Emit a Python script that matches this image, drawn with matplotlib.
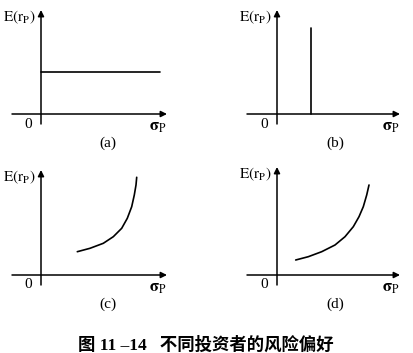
import matplotlib.pyplot as plt

plt.rcParams['mathtext.fontset'] = 'stix'
plt.rcParams['font.family'] = ['Liberation Serif', 'Noto Sans CJK SC']

# data (pixel-ish units measured from each panel's origin)
a_sigma = [0, 119]
a_er = [42, 42]
b_sigma = [34, 34]
b_er = [0, 86]
c_sigma = [36.3, 49, 62.3, 72.3, 80.7, 86.3, 90.7, 93.3, 95, 95.7]
c_er = [23.3, 26.7, 31.7, 38.3, 46.7, 56.7, 68.3, 80, 90, 97.7]
d_sigma = [18.7, 31.3, 44.7, 58, 68, 76.3, 82, 86.3, 89.7, 92]
d_er = [15, 18.3, 23.3, 30, 38.3, 48.3, 58.3, 68.3, 80, 90]
panel_labels = ['(a)', '(b)', '(c)', '(d)']
caption = '图 11 –14   不同投资者的风险偏好'

W, H = 414, 353
fig = plt.figure(figsize=(W / 100, H / 100), dpi=100)

# panel boxes: (left px, top px, width, height, origin x px, origin y px,
#               x-axis start, x-axis end, y-axis top, label x)
boxes = [
    (0, 0, 207, 160, 41, 114, -29, 126, 104, 67),
    (207, 0, 207, 160, 277, 114, -30, 123, 104, 58),
    (0, 160, 207, 160, 41, 275, -29, 126, 105, 67),
    (207, 160, 207, 160, 277, 275, -30, 123, 108, 58),
]
series = [(a_sigma, a_er), (b_sigma, b_er), (c_sigma, c_er), (d_sigma, d_er)]

arrow = dict(arrowstyle='-|>', lw=1.1, color='black', mutation_scale=9,
             shrinkA=0, shrinkB=0)

for i, (l, t, w, h, ox, oy, xs, xe, ytop, lx) in enumerate(boxes):
    ax = fig.add_axes([l / W, 1 - (t + h) / H, w / W, h / H])
    ax.set_xlim(l - ox, l + w - ox)
    ax.set_ylim(oy - (t + h), oy - t)
    ax.axis('off')
    ax.annotate('', xy=(xe, 0), xytext=(xs, 0), arrowprops=arrow)
    ax.annotate('', xy=(0, ytop), xytext=(0, -10), arrowprops=arrow)
    x, y = series[i]
    ax.plot(x, y, color='black', lw=1.2, solid_joinstyle='round', solid_capstyle='round')
    ax.text(-5, ytop - 7, r'$\mathrm{E(r_{P})}$', ha='right', va='center', fontsize=11)
    ax.text(-13, -10, '0', ha='center', va='center', fontsize=11)
    ax.text(xe - 9, -13, r'$\mathbf{\sigma}_{\mathrm{P}}$', ha='center', va='center', fontsize=12)
    ax.text(lx, -29, panel_labels[i], ha='center', va='center', fontsize=11)

fig.text(206 / W, 1 - 345 / H, caption, ha='center', va='center',
         fontsize=12.5, fontweight='bold')

fig.savefig('out.png', dpi=100)
